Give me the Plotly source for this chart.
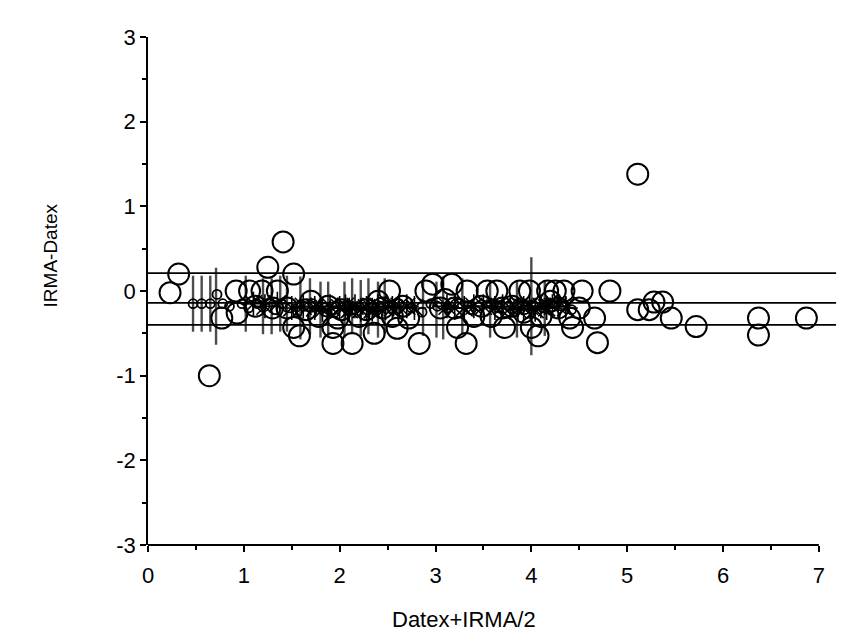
import plotly.graph_objects as go

# large open circles
big_x = [0.23, 0.32, 0.64, 0.77, 0.92, 0.93, 1.06, 1.12, 1.19, 1.25, 1.30, 1.41, 1.45, 1.52, 1.52,
         1.58, 1.65, 1.78, 1.88, 1.93, 1.93, 2.02, 2.13, 2.20, 2.36, 2.45, 2.52, 2.60, 2.66, 2.72,
         2.83, 2.90, 2.97, 3.05, 3.17, 3.20, 3.23, 3.32, 3.33, 3.40, 3.48, 3.54, 3.64, 3.70, 3.72,
         3.80, 3.88, 3.98, 4.00, 4.07, 4.10, 4.17, 4.25, 4.28, 4.34, 4.40, 4.43, 4.50, 4.53, 4.66,
         4.69, 4.82, 5.11, 5.11, 5.23, 5.28, 5.37, 5.46, 5.72, 6.37, 6.37, 6.87,
         1.35, 1.70, 2.28, 2.55, 3.10, 3.58, 3.92, 4.20, 1.98, 2.40]
big_y = [-0.02, 0.20, -1.00, -0.32, 0.00, -0.26, 0.00, -0.18, 0.00, 0.28, -0.20, 0.58, -0.20, 0.20, -0.43,
         -0.53, -0.22, -0.30, -0.18, -0.43, -0.62, -0.22, -0.62, -0.30, -0.50, -0.20, 0.00, -0.44, -0.18, -0.32,
         -0.62, 0.00, 0.08, -0.20, 0.08, -0.20, -0.43, -0.62, 0.00, -0.30, -0.18, 0.00, 0.00, -0.20, -0.43,
         -0.18, 0.00, 0.00, -0.43, -0.53, -0.30, 0.00, 0.00, -0.20, 0.00, -0.32, -0.43, -0.20, 0.00, -0.32,
         -0.61, 0.00, 1.38, -0.22, -0.22, -0.13, -0.13, -0.32, -0.42, -0.32, -0.52, -0.32,
         0.00, -0.12, -0.22, -0.30, -0.10, -0.30, -0.25, -0.12, -0.32, -0.12]

# small open circles
small_x = [0.47, 0.56, 0.65, 0.72, 0.78, 0.85, 0.98, 1.05, 1.14, 1.22, 1.33, 1.40, 1.48, 1.56, 1.63,
           1.72, 1.84, 1.95, 2.05, 2.15, 2.26, 2.34, 2.42, 2.55, 2.62, 2.75, 2.86, 2.95, 3.02, 3.12,
           3.25, 3.37, 3.45, 3.58, 3.66, 3.76, 3.86, 3.93, 4.02, 4.12, 4.22, 4.32, 4.42]
small_y = [-0.15, -0.15, -0.15, -0.04, -0.15, -0.18, -0.15, -0.20, -0.15, -0.18, -0.22, -0.15, -0.20, -0.25, -0.18,
           -0.15, -0.20, -0.25, -0.18, -0.22, -0.15, -0.20, -0.18, -0.22, -0.15, -0.20, -0.25, -0.15, -0.18, -0.20,
           -0.15, -0.22, -0.18, -0.15, -0.20, -0.18, -0.15, -0.22, -0.18, -0.20, -0.15, -0.18, -0.22]

# vertical bar symbols
bar_x = [0.47, 0.56, 0.65, 0.71, 1.02, 1.20, 1.29, 1.38, 1.45, 1.59, 1.69, 1.80, 1.88, 2.05, 2.13,
         2.22, 2.30, 2.40, 2.47, 2.87, 3.01, 3.08, 3.28, 3.57, 3.85, 4.00, 4.14]
bar_y = [-0.15, -0.15, -0.15, -0.18, -0.15, -0.18, -0.18, -0.15, -0.15, -0.20, -0.18, -0.22, -0.22, -0.22, -0.18,
         -0.20, -0.18, -0.22, -0.18, -0.20, -0.22, -0.20, -0.18, -0.22, -0.22, -0.18, -0.20]
bar_size = [40, 40, 40, 55, 40, 40, 40, 40, 40, 45, 40, 40, 40, 40, 40,
            40, 40, 40, 40, 40, 40, 45, 40, 40, 40, 70, 40]

# asterisk symbols
star_x = [1.10, 1.22, 1.35, 1.50, 1.62, 1.74, 1.82, 1.90, 2.00, 2.06, 2.10, 2.16, 2.22, 2.28, 2.34,
          2.40, 2.48, 2.55, 2.62, 2.70, 2.78, 3.12, 3.20, 3.30, 3.40, 3.50, 3.62, 3.70, 3.78, 3.86,
          3.92, 3.98, 4.04, 4.10, 4.16, 4.22, 4.28, 4.36]
star_y = [-0.15, -0.18, -0.15, -0.20, -0.18, -0.20, -0.22, -0.18, -0.20, -0.18, -0.22, -0.18, -0.22, -0.20, -0.22,
          -0.18, -0.20, -0.20, -0.18, -0.18, -0.20, -0.18, -0.20, -0.20, -0.18, -0.18, -0.20, -0.18, -0.20, -0.22,
          -0.20, -0.18, -0.22, -0.18, -0.20, -0.18, -0.18, -0.20]

# limits: upper, mean, lower
limits = [0.21, -0.14, -0.40]

y_ticks = [-3, -2, -1, 0, 1, 2, 3]
y_labels = ["-3", "-2", "-1", "0", "1", "2", "3"]

fig = go.Figure()
fig.add_trace(go.Scatter(x=bar_x, y=bar_y, mode="markers",
                         marker=dict(symbol="line-ns-open", size=bar_size, color="black",
                                     line=dict(color="black", width=2.4))))
fig.add_trace(go.Scatter(x=star_x, y=star_y, mode="markers",
                         marker=dict(symbol="asterisk-open", size=20, color="black",
                                     line=dict(color="black", width=1.6))))
fig.add_trace(go.Scatter(x=small_x, y=small_y, mode="markers",
                         marker=dict(symbol="circle-open", size=9, color="black",
                                     line=dict(color="black", width=1.8))))
fig.add_trace(go.Scatter(x=big_x, y=big_y, mode="markers",
                         marker=dict(symbol="circle-open", size=21, color="black",
                                     line=dict(color="black", width=2))))

for v in limits:
    fig.add_shape(type="line", xref="x", yref="y", x0=0, x1=7.18, y0=v, y1=v,
                  line=dict(color="black", width=1.8))

# x axis line only up to 7
fig.add_shape(type="line", xref="x", yref="paper", x0=0, x1=7, y0=0, y1=0,
              line=dict(color="black", width=1.8))

fig.update_layout(
    width=846, height=633,
    margin=dict(l=140, r=16, t=29, b=96),
    plot_bgcolor="white", paper_bgcolor="white",
    showlegend=False,
    font=dict(family="Liberation Sans, Arial", size=22, color="black"),
)
fig.update_xaxes(range=[0, 7.2], tick0=0, dtick=1, showgrid=False, zeroline=False,
                 showline=False, ticks="outside", ticklen=6, tickwidth=1.8, tickcolor="black",
                 ticklabelstandoff=5, tickfont=dict(size=22),
                 minor=dict(dtick=0.5, ticks="outside", ticklen=4, tickwidth=1.8, tickcolor="black"))
fig.update_yaxes(range=[-3, 3], tickvals=y_ticks, ticktext=y_labels, showgrid=False, zeroline=False,
                 showline=True, linecolor="black", linewidth=1.8, tickfont=dict(size=22),
                 ticks="outside", ticklen=6, tickwidth=1.8, tickcolor="black",
                 minor=dict(dtick=0.5, ticks="outside", ticklen=4, tickwidth=1.8, tickcolor="black"))

fig.add_annotation(text="Datex+IRMA/2", xref="x", yref="paper", x=3.3, y=0,
                   yshift=-60, yanchor="top", showarrow=False, font=dict(size=22))
fig.add_annotation(text="IRMA-Datex", xref="paper", yref="paper", x=0, y=0.569,
                   xshift=-110, textangle=-90, showarrow=False, font=dict(size=19))

fig.write_html("out.html")
